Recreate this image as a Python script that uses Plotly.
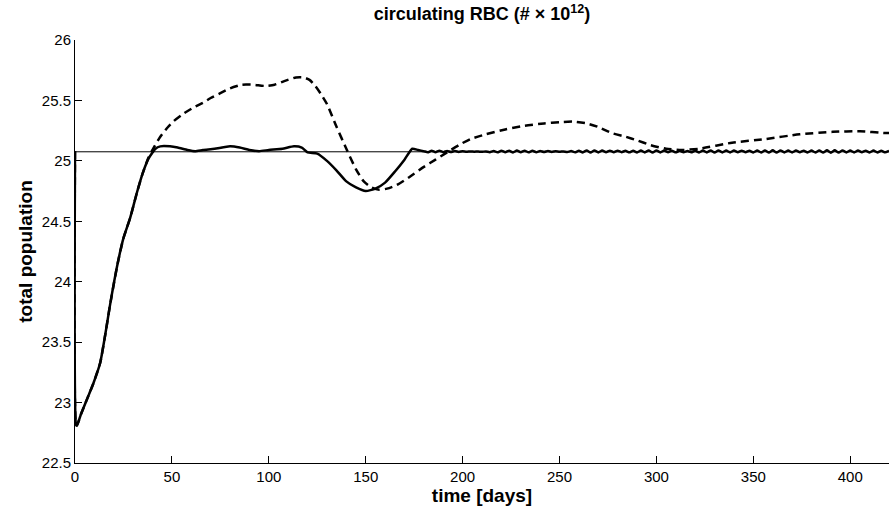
import plotly.graph_objects as go

# steady-state level (thin horizontal reference line)
steady_t = [0, 420]
steady_v = [25.075, 25.075]

# solid curve: transient part
solid_t = [0, 0.5, 1, 3, 6, 9.5, 13, 16, 18, 22, 25, 28.5, 32, 35, 38, 41.5, 44, 49, 53, 58, 62, 66, 72,
           80, 85, 90, 95, 100, 107, 113, 117, 120, 125, 130, 135, 140, 145, 150, 155, 160, 165, 170,
           174, 177, 180]
solid_v = [25.08, 22.82, 22.81, 22.9, 23.02, 23.16, 23.33, 23.6, 23.8, 24.15, 24.36, 24.53, 24.74,
           24.9, 25.02, 25.1, 25.12, 25.12, 25.11, 25.09, 25.08, 25.09, 25.1,
           25.12, 25.11, 25.09, 25.08, 25.09, 25.1, 25.12, 25.11, 25.07, 25.06, 25.0, 24.92, 24.83,
           24.78, 24.75, 24.77, 24.82, 24.91, 25.01,
           25.1, 25.09, 25.08]
# solid curve: small late oscillation about the steady state
late_t = [182, 184, 186, 188, 190, 192, 194, 196, 198, 200, 202, 204, 206, 208, 210, 212, 214, 216,
          218, 220, 222, 224, 226, 228, 230, 232, 234, 236, 238, 240, 242, 244, 246, 248, 250, 252,
          254, 256, 258, 260, 262, 264, 266, 268, 270, 272, 274, 276, 278, 280, 282, 284, 286, 288,
          290, 292, 294, 296, 298, 300, 302, 304, 306, 308, 310, 312, 314, 316, 318, 320, 322, 324,
          326, 328, 330, 332, 334, 336, 338, 340, 342, 344, 346, 348, 350, 352, 354, 356, 358, 360,
          362, 364, 366, 368, 370, 372, 374, 376, 378, 380, 382, 384, 386, 388, 390, 392, 394, 396,
          398, 400, 402, 404, 406, 408, 410, 412, 414, 416, 418, 420]
late_v = [25.071, 25.084, 25.071, 25.084, 25.072, 25.082, 25.073, 25.081, 25.074, 25.079, 25.075, 25.078,
          25.076, 25.077, 25.075, 25.078, 25.072, 25.082, 25.071, 25.084, 25.071, 25.084, 25.07, 25.085,
          25.071, 25.084, 25.071, 25.083, 25.072, 25.082, 25.073, 25.081, 25.074, 25.079, 25.075, 25.078,
          25.073, 25.081, 25.071, 25.084, 25.07, 25.086, 25.069, 25.086, 25.07, 25.085, 25.071, 25.084,
          25.071, 25.084, 25.072, 25.083, 25.071, 25.084, 25.07, 25.085, 25.07, 25.086, 25.069, 25.086,
          25.07, 25.085, 25.071, 25.084, 25.071, 25.083, 25.072, 25.082, 25.071, 25.084, 25.07, 25.085,
          25.07, 25.086, 25.069, 25.086, 25.07, 25.085, 25.07, 25.085, 25.071, 25.084, 25.071, 25.084,
          25.07, 25.085, 25.069, 25.086, 25.069, 25.087, 25.069, 25.086, 25.07, 25.085, 25.07, 25.085,
          25.071, 25.084, 25.07, 25.085, 25.069, 25.086, 25.069, 25.087, 25.068, 25.087, 25.069, 25.086,
          25.07, 25.085, 25.07, 25.085, 25.071, 25.084, 25.07, 25.085, 25.07, 25.084, 25.071, 25.083]

# dashed curve
dashed_t = [0, 0.5, 1, 3, 6, 9.5, 13, 16, 18, 22, 25, 28.5, 32, 35, 38, 41, 44, 48, 51, 55, 61, 66, 70,
            75, 80, 86, 92, 98, 103, 108, 114, 118, 121, 124, 127, 130, 135, 140, 145, 149, 153, 157,
            161, 166, 172, 180, 186, 192, 198, 204, 212, 222, 232, 242, 250, 257, 264, 270, 277, 284,
            290, 297, 305, 313, 322, 339, 356, 374, 391, 405, 418, 420]
dashed_v = [25.08, 22.82, 22.81, 22.9, 23.02, 23.16, 23.33, 23.6, 23.8, 24.15, 24.36, 24.53, 24.74,
            24.9, 25.03, 25.12, 25.2, 25.28, 25.33, 25.38, 25.44, 25.48, 25.52,
            25.56, 25.6, 25.63, 25.63, 25.62, 25.63, 25.66, 25.69, 25.69, 25.67, 25.62, 25.55, 25.47,
            25.28, 25.1, 24.93, 24.83, 24.78, 24.76,
            24.77, 24.8, 24.86, 24.95, 25.01, 25.07, 25.13, 25.18, 25.22, 25.26, 25.29, 25.31, 25.32,
            25.325, 25.31, 25.28, 25.23, 25.2,
            25.17, 25.13, 25.1, 25.09, 25.1, 25.15, 25.18, 25.22, 25.24, 25.245, 25.23, 25.23]

x_ticks = [0, 50, 100, 150, 200, 250, 300, 350, 400]
y_ticks = [22.5, 23, 23.5, 24, 24.5, 25, 25.5, 26]
y_tick_text = ["22.5", "23", "23.5", "24", "24.5", "25", "25.5", "26"]

FONT = "Liberation Sans, Arial, Helvetica, sans-serif"

fig = go.Figure()
fig.add_trace(go.Scatter(x=steady_t, y=steady_v, mode="lines",
                         line=dict(color="black", width=1), showlegend=False, hoverinfo="skip"))
fig.add_trace(go.Scatter(x=dashed_t, y=dashed_v, mode="lines",
                         line=dict(color="black", width=2.5, dash="8px,5px", shape="spline", smoothing=0.6),
                         showlegend=False))
fig.add_trace(go.Scatter(x=solid_t + late_t, y=solid_v + late_v, mode="lines",
                         line=dict(color="black", width=2.5, shape="spline", smoothing=0.5),
                         showlegend=False))

fig.update_layout(
    width=889, height=517,
    margin=dict(l=75, r=0, t=40, b=54),
    paper_bgcolor="white", plot_bgcolor="white",
    font=dict(family=FONT, color="black", size=15),
    title=dict(text="<b>circulating RBC (# × 10<sup>12</sup>)</b>",
               x=0.5, xref="paper", xanchor="center",
               y=0.985, yref="container", yanchor="top",
               font=dict(family=FONT, size=18, color="black")),
)
fig.update_xaxes(range=[0, 420], tickvals=x_ticks, ticktext=[str(v) for v in x_ticks],
                 showgrid=False, zeroline=False, showline=True, linecolor="black", linewidth=1,
                 ticks="inside", ticklen=7, tickcolor="black", tickwidth=1,
                 tickfont=dict(size=15),
                 title=dict(text="<b>time [days]</b>", font=dict(size=19), standoff=4))
fig.update_yaxes(range=[22.5, 26], tickvals=y_ticks, ticktext=y_tick_text,
                 showgrid=False, zeroline=False, showline=True, linecolor="black", linewidth=1,
                 ticks="inside", ticklen=7, tickcolor="black", tickwidth=1,
                 tickfont=dict(size=15),
                 title=dict(text="<b>total population</b>", font=dict(size=19), standoff=4))

fig.write_html("out.html")
